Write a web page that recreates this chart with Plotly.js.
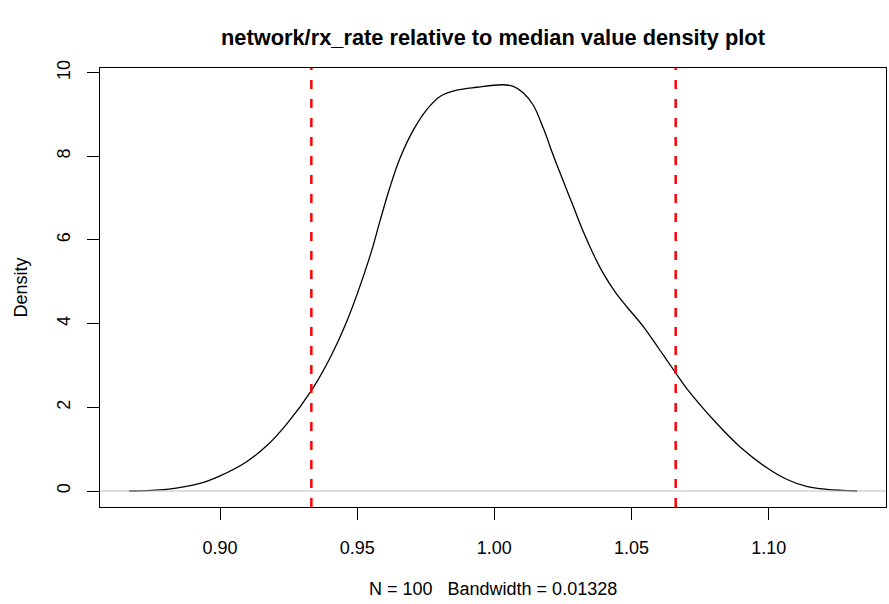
<!DOCTYPE html>
<html>
<head>
<meta charset="utf-8">
<script src="https://cdn.plot.ly/plotly-3.0.1.min.js"></script>
<style>html,body{margin:0;padding:0;background:#fff;}#chart{width:889px;height:604px;}</style>
</head>
<body>
<div id="chart"></div>
<script>
// Density estimate of network/rx_rate relative to median value
const densX = [0.8669, 0.8806, 0.8927, 0.9000, 0.9097, 0.9170, 0.9243, 0.9333, 0.9401, 0.9462,
               0.9547, 0.9583, 0.9620, 0.9656, 0.9705, 0.9753, 0.9802, 0.9863, 0.9936, 1.0030,
               1.0069, 1.0105, 1.0142, 1.0178, 1.0215, 1.0254, 1.0288, 1.0324, 1.0361, 1.0397,
               1.0440, 1.0482, 1.0543, 1.0603, 1.0658, 1.0700, 1.0810, 1.0895, 1.0992,
               1.1065, 1.1138, 1.1211, 1.1322];
const densY = [0.00, 0.04, 0.18, 0.36, 0.70, 1.08, 1.60, 2.40, 3.18, 4.05,
               5.62, 6.45, 7.27, 7.95, 8.63, 9.11, 9.43, 9.58, 9.65, 9.71,
               9.67, 9.52, 9.22, 8.68, 8.02, 7.36, 6.80, 6.20, 5.66, 5.20,
               4.76, 4.41, 3.93, 3.37, 2.85, 2.46, 1.62, 1.06, 0.56,
               0.28, 0.11, 0.04, 0.00];
// Vertical reference lines (quantile bounds)
const refLines = [0.9333, 1.0661];
// Horizontal baseline
const baseline = [0];
// Tick labels
const xTicks = [0.90, 0.95, 1.00, 1.05, 1.10];
const xTickText = ["0.90", "0.95", "1.00", "1.05", "1.10"];
const yTicks = [0, 2, 4, 6, 8, 10];
const yTickText = ["0", "2", "4", "6", "8", "10"];
const titleText = "network/rx_rate relative to median value density plot";
const subText = "N = 100   Bandwidth = 0.01328";
const yLabel = "Density";

const FONT = "Liberation Sans, Arial, sans-serif";

const traces = [{
  x: densX, y: densY, type: 'scatter', mode: 'lines',
  line: {color: '#000000', width: 1.3, shape: 'spline', smoothing: 1},
  hoverinfo: 'x+y', showlegend: false
}];

const shapes = [];
refLines.forEach(v => shapes.push({
  type: 'line', xref: 'x', yref: 'paper', x0: v, x1: v, y0: 0, y1: 1,
  line: {color: '#FF0000', width: 2.5, dash: '9px,10px'}, layer: 'above'
}));
baseline.forEach(v => shapes.push({
  type: 'line', xref: 'paper', yref: 'y', x0: 0, x1: 1, y0: v, y1: v,
  line: {color: '#BEBEBE', width: 1}, layer: 'above'
}));

const layout = {
  width: 889, height: 604,
  margin: {l: 100, r: 3, t: 68, b: 97, pad: 0},
  paper_bgcolor: '#ffffff', plot_bgcolor: '#ffffff',
  font: {family: FONT, size: 18, color: '#000000'},
  title: {text: '<b>' + titleText + '</b>', font: {family: FONT, size: 21.8, color: '#000'},
          x: 0.5, xanchor: 'center', y: 1 - 37/604, yanchor: 'middle', yref: 'container', xref: 'paper'},
  xaxis: {
    range: [0.85626, 1.14276], tickvals: xTicks, ticktext: xTickText,
    ticks: 'outside', ticklen: 12, tickwidth: 1, tickcolor: '#000',
    showline: true, linecolor: '#000', linewidth: 1, mirror: true,
    showgrid: false, zeroline: false, ticklabelstandoff: 12,
    tickfont: {family: FONT, size: 18, color: '#000'}
  },
  yaxis: {
    range: [-0.3825, 10.11], tickvals: yTicks, ticktext: yTickText,
    ticks: 'outside', ticklen: 12, tickwidth: 1, tickcolor: '#000',
    showline: true, linecolor: '#000', linewidth: 1, mirror: true,
    showgrid: false, zeroline: false, tickangle: -90, ticklabelstandoff: 10,
    tickfont: {family: FONT, size: 18, color: '#000'}
  },
  shapes: shapes,
  annotations: [
    {text: subText, xref: 'paper', yref: 'paper', x: 0.5, y: (507 - 589) / (507 - 68),
     xanchor: 'center', yanchor: 'middle', showarrow: false, font: {family: FONT, size: 18, color: '#000'}},
    {text: yLabel, xref: 'paper', yref: 'paper', x: (20 - 100) / 786, y: 0.5, textangle: -90,
     xanchor: 'center', yanchor: 'middle', showarrow: false, font: {family: FONT, size: 18, color: '#000'}}
  ]
};

Plotly.newPlot('chart', traces, layout, {displayModeBar: false, staticPlot: true});
</script>
</body>
</html>
